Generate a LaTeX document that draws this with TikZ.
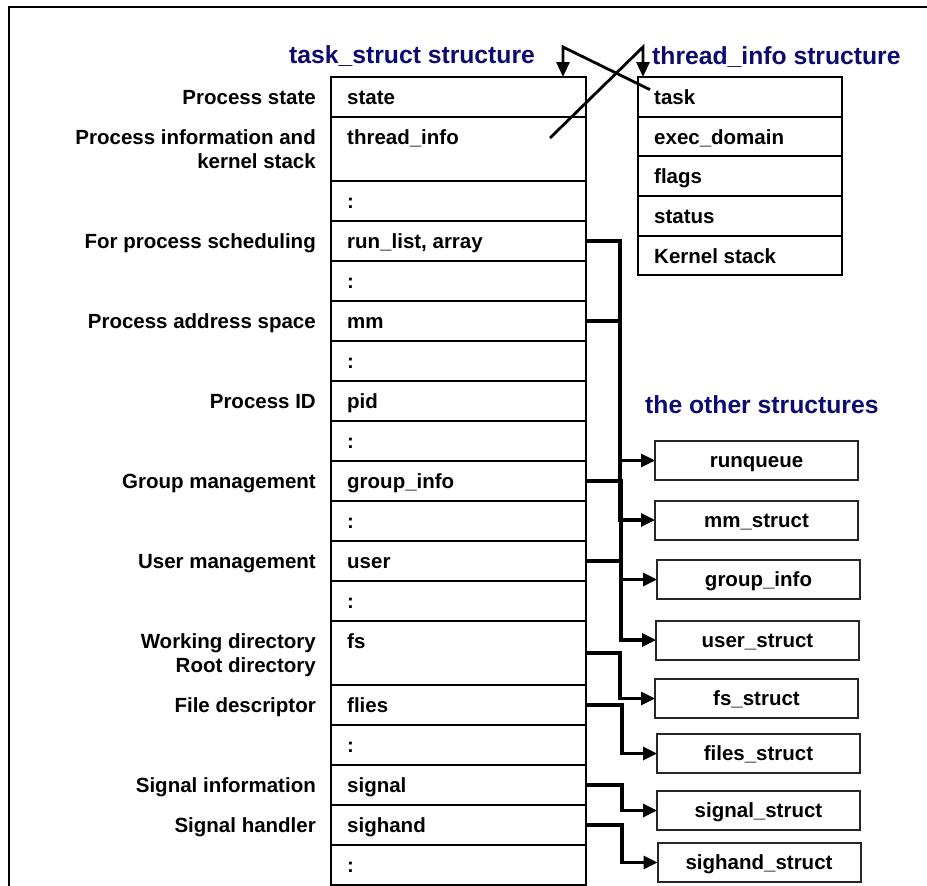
\documentclass[tikz,border=0pt]{standalone}
\usepackage{fontspec}
\setmainfont{Liberation Sans}
\usetikzlibrary{arrows.meta,calc}
\definecolor{titleblue}{RGB}{12,12,112}
\tikzset{
  txt/.style={font=\fontsize{20.5}{24}\selectfont\bfseries, inner sep=0pt},
  title/.style={font=\fontsize{24.7}{28}\selectfont\bfseries, text=titleblue, inner sep=0pt, anchor=base west},
  label/.style={txt, anchor=base east},
  field/.style={txt, anchor=base west},
  cell/.style={draw, line width=2.5pt, inner sep=0pt, outer sep=0pt, minimum width=255pt},
  tcell/.style={draw, line width=2.5pt, inner sep=0pt, outer sep=0pt, minimum width=204pt},
  obox/.style={draw=black!85, line width=2pt, inner sep=0pt, outer sep=0pt,
    minimum width=203pt, minimum height=39pt, txt, text height=14.7pt, text depth=0pt},
  conn/.style={line width=3.2pt, -{Triangle[length=14pt,width=13pt]}},
  cross/.style={line width=2.8pt, -{Triangle[length=15pt,width=13pt]}},
  frame/.style={line width=1.3pt}
}
\begin{document}
\begin{tikzpicture}[x=1pt,y=-1pt]
\useasboundingbox (0,0) rectangle (927,886);

% page frame (top and left edges)
\draw[frame] (9,886) -- (9,7) -- (927,7);

% titles
\node[title] (tstitle) at (289,63) {task\_struct structure};
\node[title] (tititle) at (652,64) {thread\_info structure};
\node[title] (ottitle) at (645,413) {the other structures};

% task_struct cells: name / top / bottom
\foreach \n/\t/\b in {r1/77/117, r2/117/181, r3/181/221, r4/221/261, r5/261/301,
    r6/301/341, r7/341/381, r8/381/421, r9/421/461, r10/461/501, r11/501/541,
    r12/541/581, r13/581/621, r14/621/685, r15/685/725, r16/725/765,
    r17/765/805, r18/805/845, r19/845/885}
  \node[cell, minimum height={\b-\t}] (\n) at (458.5,{(\t+\b)/2}) {};

% task_struct field names (baseline 27 below each cell top)
\foreach \n/\t/\s in {f1/77/state, f2/117/thread\_info, f3/181/:, f4/221/{run\_list, array},
    f5/261/:, f6/301/mm, f7/341/:, f8/381/pid, f9/421/:, f10/461/group\_info,
    f11/501/:, f12/541/user, f13/581/:, f14/621/fs, f15/685/flies, f16/725/:,
    f17/765/signal, f18/805/sighand, f19/845/:}
  \node[field] (\n) at (347,{\t+27}) {\s};

% descriptions to the left of the fields
\node[label] (l1)  at (316,104) {Process state};
\node[label] (l2a) at (316,144) {Process information and};
\node[label] (l2b) at (316,168) {kernel stack};
\node[label] (l4)  at (316,248) {For process scheduling};
\node[label] (l6)  at (316,328) {Process address space};
\node[label] (l8)  at (316,408) {Process ID};
\node[label] (l10) at (316,488) {Group management};
\node[label] (l12) at (316,568) {User management};
\node[label] (l14a) at (316,648) {Working directory};
\node[label] (l14b) at (316,672) {Root directory};
\node[label] (l15) at (316,712) {File descriptor};
\node[label] (l17) at (316,792) {Signal information};
\node[label] (l18) at (316,832) {Signal handler};

% thread_info cells
\foreach \n/\t/\b/\s in {t1/77/117/task, t2/117/156/exec\_domain, t3/156/196/flags,
    t4/196/236/status, t5/236/275/Kernel stack}
{
  \node[tcell, minimum height={\b-\t}] (\n) at (740,{(\t+\b)/2}) {};
  \node[field] (\n txt) at (654,{\t+27}) {\s};
}

% the other structures
\node[obox] (rq)  at (756.5,460.5) {runqueue};
\node[obox] (mms) at (756.5,520)   {mm\_struct};
\node[obox] (gi)  at (758.5,579.5) {group\_info};
\node[obox] (us)  at (757.5,640)   {user\_struct};
\node[obox] (fss) at (756.5,698.5) {fs\_struct};
\node[obox] (fis) at (758.5,753.5) {files\_struct};
\node[obox] (sis) at (758.5,810.5) {signal\_struct};
\node[obox] (shs) at (759,862.5)   {sighand\_struct};

% pointers from task_struct fields to the other structures
\draw[conn] (r4.east)  -- ++(34,0) |- (rq.west);
\draw[conn] (r6.east)  -- ++(34,0) |- (mms.west);
\draw[conn] (r10.east) -- ++(35,0) |- (gi.west);
\draw[conn] (r12.east) -- ++(35,0) |- (us.west);
\draw[conn] (r14.east) -- ++(34,0) |- (fss.west);
\draw[conn] (r15.east) -- ++(36,0) |- (fis.west);
\draw[conn] (r17.east) -- ++(36,0) |- (sis.west);
\draw[conn] (r18.east) -- ++(36,0) |- (shs.west);

% crossed pointers between task_struct and thread_info
\coordinate (k1) at (563,47);
\coordinate (k2) at (643,47);
\coordinate (taskptr) at ($(t1txt.west)+(-4,-7)$);
\coordinate (tiptr) at (550,138);
\draw[cross] (taskptr) -- (k1) -- (k1 |- r1.north);
\draw[cross] (tiptr) -- (k2) -- (k2 |- t1.north);
\end{tikzpicture}
\end{document}
